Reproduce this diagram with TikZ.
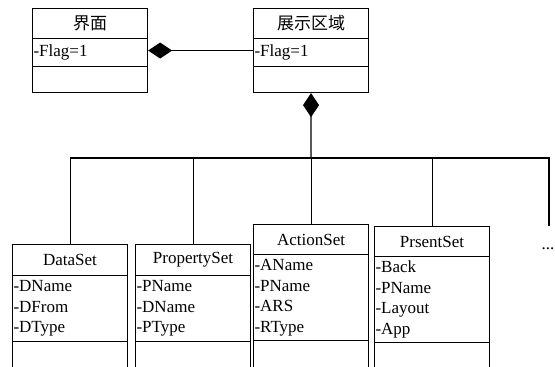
\documentclass[tikz,border=0pt]{standalone}
\usepackage{fontspec}
\setmainfont{Liberation Serif}
\newfontfamily\lserif{Liberation Serif}
\newfontfamily\cjk{Noto Sans CJK SC}
\usetikzlibrary{arrows.meta}
\begin{document}
\begin{tikzpicture}[x=1pt,y=-1pt,
  cls/.style={draw, line width=1.1pt, inner xsep=1pt, inner ysep=0pt,
    text width=113pt, anchor=north west,
    font=\lserif\fontsize{17}{20.5}\selectfont},
  ttl/.style={cls, align=center},
  att/.style={cls, align=left},
  link/.style={line width=1.1pt},
  comp/.style={link, -{Diamond[length=24pt,width=16pt]}}]
\clip (0,0) rectangle (555,367);
\fill[white] (0,0) rectangle (555,367);
% top classes
\node[ttl, minimum height=30pt] (jm-t) at (32,8) {\cjk 界面};
\node[att, minimum height=28pt] (jm-a) at (32,38) {-Flag=1};
\node[att, minimum height=26pt] (jm-m) at (32,66) {};
\node[ttl, minimum height=30pt] (zs-t) at (253,8) {\cjk 展示区域};
\node[att, minimum height=28pt] (zs-a) at (253,38) {-Flag=1};
\node[att, minimum height=26pt] (zs-m) at (253,66) {};
% bottom classes
\node[ttl, minimum height=31pt] (ds-t) at (12,244) {DataSet};
\node[att, minimum height=66pt] (ds-a) at (12,275) {-DName\\-DFrom\\-DType};
\node[att, minimum height=40pt] (ds-m) at (12,341) {};
\node[ttl, minimum height=31pt] (ps-t) at (135,244) {PropertySet};
\node[att, minimum height=66pt] (ps-a) at (135,275) {-PName\\-DName\\-PType};
\node[att, minimum height=40pt] (ps-m) at (135,341) {};
\node[ttl, minimum height=30pt] (as-t) at (253,224) {ActionSet};
\node[att, minimum height=86pt] (as-a) at (253,254) {-AName\\-PName\\-ARS\\-RType};
\node[att, minimum height=40pt] (as-m) at (253,340) {};
\node[ttl, minimum height=30pt] (pr-t) at (374,226) {PrsentSet};
\node[att, minimum height=86pt] (pr-a) at (374,256) {-Back\\-PName\\-Layout\\-App};
\node[att, minimum height=40pt] (pr-m) at (374,342) {};
\node[font=\lserif\fontsize{17}{20.5}\selectfont, anchor=base, inner sep=0pt] (more) at (548,249) {...};
% connectors
\coordinate (bus) at (311,158);
\coordinate (busR) at (549,158);
\coordinate (moreend) at (549,226);
\draw[comp] ([yshift=2pt]zs-a.west) -- ([yshift=2pt]jm-a.east);
\draw[comp] (bus) -- (zs-m.south);
\draw[link] (ds-t.north) |- (busR) -- (moreend);
\draw[link] (ps-t.north) -- (ps-t.north |- bus);
\draw[link] (as-t.north) -- (as-t.north |- bus);
\draw[link] (pr-t.north) -- (pr-t.north |- bus);
\end{tikzpicture}
\end{document}
